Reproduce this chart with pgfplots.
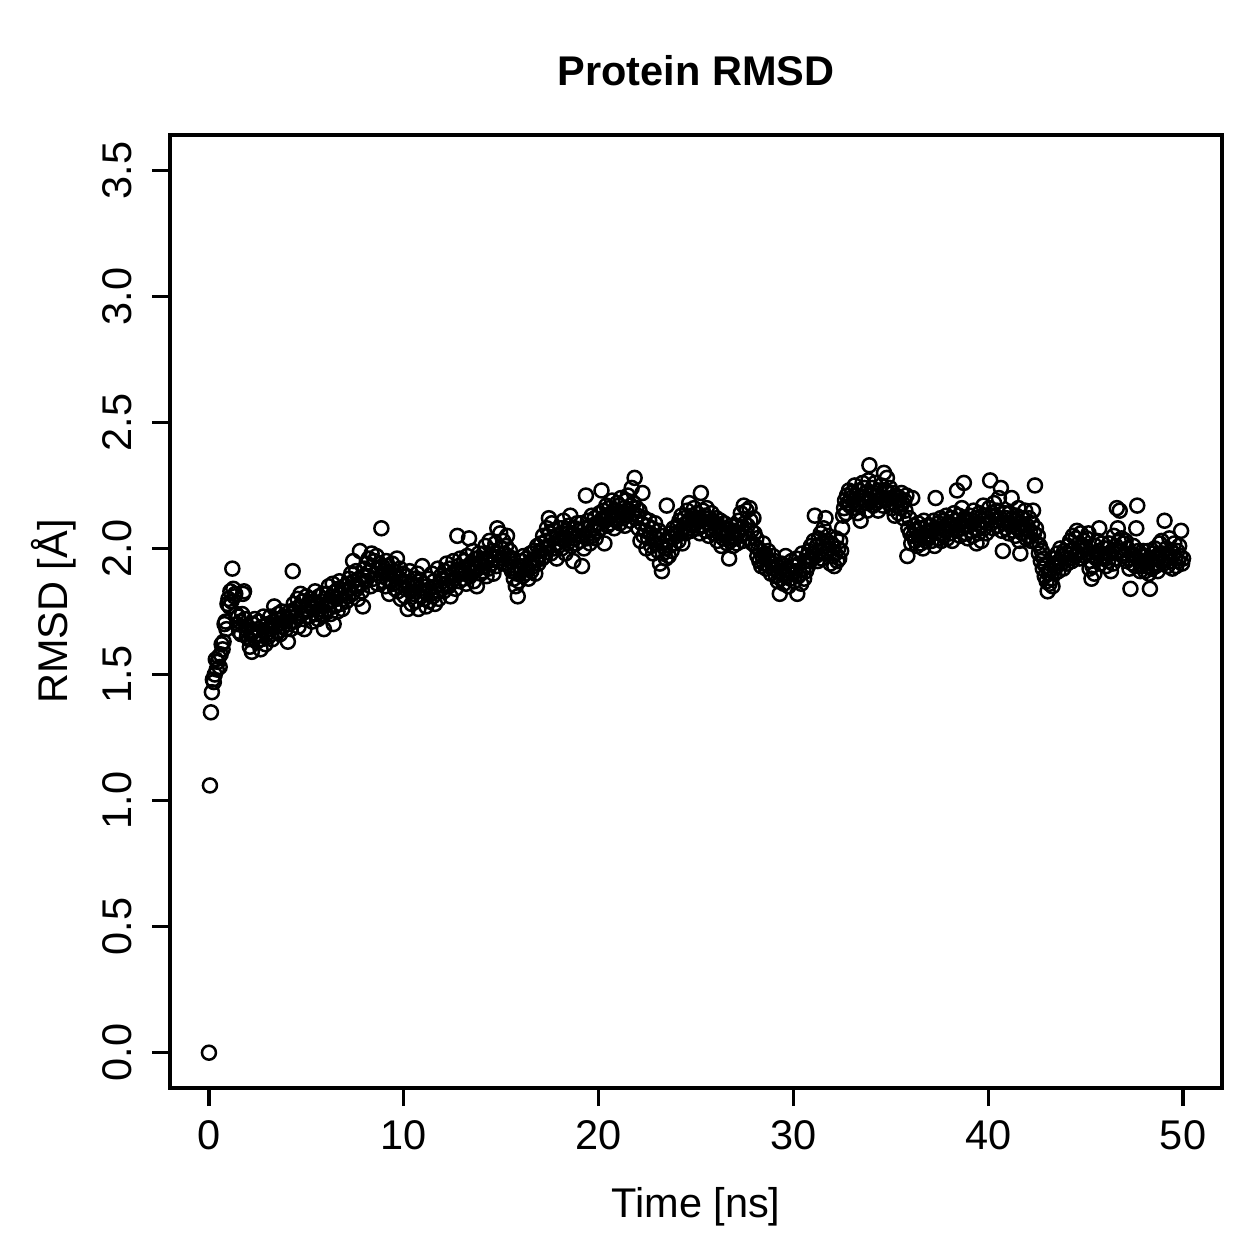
\documentclass[border=0pt]{standalone}
\usepackage{fontspec}
\setmainfont{Liberation Sans}
\usepackage{pgfplots}
\usepackage{pgfplotstable}
\pgfplotsset{compat=1.18}

% Backbone RMSD, one frame every 0.05 ns (0 to 50 ns)
\pgfplotstableread[header=false, row sep=\\]{
0.00\\ 1.06\\ 1.35\\ 1.43\\ 1.48\\ 1.47\\ 1.50\\ 1.56\\ 1.52\\ 1.55\\ 1.57\\ 1.53\\ 1.58\\ 1.62\\ 1.60\\ 1.63\\ 1.70\\ 1.71\\ 1.68\\ 1.78\\
1.80\\ 1.77\\ 1.83\\ 1.79\\ 1.92\\ 1.84\\ 1.81\\ 1.82\\ 1.74\\ 1.70\\ 1.73\\ 1.67\\ 1.71\\ 1.66\\ 1.74\\ 1.82\\ 1.83\\ 1.72\\ 1.68\\ 1.65\\
1.69\\ 1.64\\ 1.61\\ 1.66\\ 1.59\\ 1.70\\ 1.67\\ 1.72\\ 1.65\\ 1.63\\ 1.68\\ 1.71\\ 1.66\\ 1.60\\ 1.64\\ 1.69\\ 1.73\\ 1.67\\ 1.62\\ 1.66\\
1.70\\ 1.65\\ 1.68\\ 1.73\\ 1.66\\ 1.64\\ 1.71\\ 1.77\\ 1.69\\ 1.72\\ 1.67\\ 1.74\\ 1.70\\ 1.66\\ 1.72\\ 1.75\\ 1.69\\ 1.73\\ 1.71\\ 1.68\\
1.72\\ 1.63\\ 1.70\\ 1.75\\ 1.68\\ 1.74\\ 1.91\\ 1.78\\ 1.71\\ 1.76\\ 1.73\\ 1.80\\ 1.69\\ 1.77\\ 1.82\\ 1.74\\ 1.79\\ 1.72\\ 1.68\\ 1.76\\
1.81\\ 1.75\\ 1.78\\ 1.73\\ 1.80\\ 1.77\\ 1.71\\ 1.79\\ 1.76\\ 1.83\\ 1.74\\ 1.78\\ 1.72\\ 1.81\\ 1.76\\ 1.74\\ 1.79\\ 1.82\\ 1.68\\ 1.75\\
1.78\\ 1.82\\ 1.76\\ 1.85\\ 1.79\\ 1.74\\ 1.81\\ 1.86\\ 1.70\\ 1.77\\ 1.83\\ 1.80\\ 1.75\\ 1.84\\ 1.87\\ 1.78\\ 1.82\\ 1.76\\ 1.80\\ 1.85\\
1.83\\ 1.79\\ 1.86\\ 1.81\\ 1.88\\ 1.84\\ 1.90\\ 1.82\\ 1.95\\ 1.87\\ 1.85\\ 1.91\\ 1.84\\ 1.80\\ 1.88\\ 1.99\\ 1.86\\ 1.83\\ 1.77\\ 1.89\\
1.92\\ 1.87\\ 1.94\\ 1.89\\ 1.96\\ 1.91\\ 1.85\\ 1.98\\ 1.93\\ 1.88\\ 1.95\\ 1.90\\ 1.97\\ 1.86\\ 1.92\\ 1.94\\ 1.89\\ 2.08\\ 1.93\\ 1.87\\
1.91\\ 1.85\\ 1.95\\ 1.88\\ 1.93\\ 1.82\\ 1.90\\ 1.87\\ 1.94\\ 1.86\\ 1.91\\ 1.84\\ 1.89\\ 1.96\\ 1.83\\ 1.88\\ 1.92\\ 1.80\\ 1.86\\ 1.90\\
1.87\\ 1.81\\ 1.84\\ 1.89\\ 1.76\\ 1.85\\ 1.91\\ 1.83\\ 1.78\\ 1.86\\ 1.82\\ 1.88\\ 1.79\\ 1.85\\ 1.90\\ 1.76\\ 1.84\\ 1.87\\ 1.81\\ 1.93\\
1.86\\ 1.80\\ 1.83\\ 1.77\\ 1.85\\ 1.88\\ 1.79\\ 1.84\\ 1.82\\ 1.90\\ 1.81\\ 1.87\\ 1.78\\ 1.85\\ 1.83\\ 1.92\\ 1.80\\ 1.86\\ 1.89\\ 1.84\\
1.88\\ 1.83\\ 1.91\\ 1.86\\ 1.94\\ 1.89\\ 1.85\\ 1.92\\ 1.81\\ 1.87\\ 1.90\\ 1.95\\ 1.88\\ 1.84\\ 1.91\\ 2.05\\ 1.93\\ 1.87\\ 1.96\\ 1.90\\
1.92\\ 1.88\\ 1.95\\ 1.90\\ 1.86\\ 1.97\\ 1.93\\ 2.04\\ 1.89\\ 1.94\\ 1.91\\ 1.99\\ 1.87\\ 1.93\\ 1.96\\ 1.85\\ 1.92\\ 1.98\\ 1.94\\ 1.90\\
1.95\\ 1.91\\ 1.98\\ 1.93\\ 2.01\\ 1.89\\ 1.96\\ 1.92\\ 2.03\\ 1.97\\ 1.94\\ 1.99\\ 1.90\\ 1.96\\ 2.02\\ 1.93\\ 2.08\\ 1.98\\ 1.95\\ 2.06\\
2.00\\ 1.96\\ 2.03\\ 1.98\\ 1.94\\ 2.01\\ 2.05\\ 1.97\\ 1.93\\ 1.99\\ 1.95\\ 1.91\\ 1.96\\ 1.88\\ 1.92\\ 1.85\\ 1.90\\ 1.81\\ 1.87\\ 1.93\\
1.91\\ 1.95\\ 1.89\\ 1.97\\ 1.93\\ 1.90\\ 1.96\\ 1.92\\ 1.88\\ 1.94\\ 1.98\\ 1.91\\ 1.95\\ 1.93\\ 1.99\\ 1.90\\ 1.96\\ 2.01\\ 1.94\\ 1.97\\
1.99\\ 2.02\\ 1.96\\ 2.05\\ 2.00\\ 1.97\\ 2.03\\ 2.08\\ 2.01\\ 2.12\\ 2.06\\ 1.98\\ 2.10\\ 2.04\\ 2.00\\ 2.07\\ 2.02\\ 1.96\\ 2.05\\ 2.01\\
2.04\\ 2.08\\ 2.00\\ 2.06\\ 2.11\\ 2.03\\ 1.98\\ 2.07\\ 2.02\\ 2.09\\ 2.05\\ 2.13\\ 2.01\\ 2.06\\ 1.95\\ 2.04\\ 2.08\\ 2.02\\ 2.10\\ 2.05\\
2.07\\ 2.03\\ 2.10\\ 1.93\\ 2.05\\ 2.00\\ 2.08\\ 2.21\\ 2.04\\ 2.11\\ 2.06\\ 2.02\\ 2.09\\ 2.13\\ 2.05\\ 2.08\\ 2.12\\ 2.04\\ 2.10\\ 2.07\\
2.10\\ 2.14\\ 2.08\\ 2.23\\ 2.12\\ 2.15\\ 2.02\\ 2.11\\ 2.17\\ 2.09\\ 2.13\\ 2.16\\ 2.10\\ 2.14\\ 2.19\\ 2.12\\ 2.08\\ 2.15\\ 2.11\\ 2.18\\
2.13\\ 2.17\\ 2.10\\ 2.20\\ 2.14\\ 2.12\\ 2.16\\ 2.09\\ 2.19\\ 2.13\\ 2.21\\ 2.15\\ 2.11\\ 2.17\\ 2.24\\ 2.14\\ 2.18\\ 2.28\\ 2.12\\ 2.16\\
2.13\\ 2.08\\ 2.15\\ 2.03\\ 2.10\\ 2.22\\ 2.05\\ 2.12\\ 2.07\\ 2.00\\ 2.09\\ 2.04\\ 2.11\\ 2.06\\ 2.01\\ 2.08\\ 1.98\\ 2.05\\ 2.10\\ 2.02\\
2.04\\ 1.99\\ 2.07\\ 1.94\\ 2.02\\ 1.91\\ 1.98\\ 2.05\\ 2.00\\ 1.96\\ 2.17\\ 2.03\\ 1.97\\ 2.01\\ 2.06\\ 1.99\\ 2.04\\ 2.08\\ 2.02\\ 2.06\\
2.05\\ 2.09\\ 2.03\\ 2.11\\ 2.07\\ 2.13\\ 2.02\\ 2.08\\ 2.12\\ 2.06\\ 2.10\\ 2.15\\ 2.08\\ 2.18\\ 2.11\\ 2.07\\ 2.13\\ 2.09\\ 2.16\\ 2.12\\
2.10\\ 2.14\\ 2.08\\ 2.12\\ 2.06\\ 2.22\\ 2.11\\ 2.15\\ 2.09\\ 2.13\\ 2.07\\ 2.16\\ 2.10\\ 2.05\\ 2.12\\ 2.08\\ 2.14\\ 2.11\\ 2.06\\ 2.10\\
2.08\\ 2.12\\ 2.03\\ 2.09\\ 2.06\\ 2.11\\ 2.01\\ 2.07\\ 2.04\\ 2.10\\ 2.05\\ 2.08\\ 2.02\\ 2.06\\ 1.96\\ 2.03\\ 2.09\\ 2.05\\ 2.01\\ 2.07\\
2.04\\ 2.09\\ 2.02\\ 2.06\\ 2.11\\ 2.05\\ 2.14\\ 2.08\\ 2.03\\ 2.17\\ 2.10\\ 2.06\\ 2.15\\ 2.09\\ 2.04\\ 2.16\\ 2.11\\ 2.07\\ 2.02\\ 2.12\\
2.06\\ 2.01\\ 2.04\\ 1.97\\ 2.00\\ 1.95\\ 1.99\\ 1.93\\ 1.97\\ 2.02\\ 1.94\\ 1.98\\ 1.92\\ 1.96\\ 1.99\\ 1.93\\ 1.95\\ 1.90\\ 1.94\\ 1.97\\
1.92\\ 1.95\\ 1.89\\ 1.93\\ 1.87\\ 1.91\\ 1.82\\ 1.88\\ 1.94\\ 1.90\\ 1.86\\ 1.93\\ 1.97\\ 1.89\\ 1.92\\ 1.85\\ 1.91\\ 1.88\\ 1.95\\ 1.90\\
1.93\\ 1.87\\ 1.91\\ 1.96\\ 1.82\\ 1.89\\ 1.94\\ 1.90\\ 1.86\\ 1.98\\ 1.92\\ 1.88\\ 1.95\\ 1.91\\ 1.97\\ 1.93\\ 1.99\\ 1.95\\ 2.01\\ 1.96\\
1.98\\ 2.03\\ 2.13\\ 1.97\\ 2.01\\ 1.95\\ 2.04\\ 1.99\\ 2.06\\ 1.96\\ 2.02\\ 2.08\\ 1.98\\ 2.12\\ 2.03\\ 1.99\\ 2.05\\ 2.00\\ 1.94\\ 2.02\\
1.97\\ 2.01\\ 1.93\\ 1.98\\ 2.04\\ 1.95\\ 2.00\\ 1.96\\ 2.03\\ 1.99\\ 2.08\\ 2.13\\ 2.16\\ 2.19\\ 2.14\\ 2.21\\ 2.18\\ 2.23\\ 2.17\\ 2.20\\
2.22\\ 2.16\\ 2.19\\ 2.25\\ 2.18\\ 2.21\\ 2.14\\ 2.23\\ 2.17\\ 2.11\\ 2.20\\ 2.26\\ 2.19\\ 2.24\\ 2.18\\ 2.22\\ 2.15\\ 2.27\\ 2.33\\ 2.21\\
2.19\\ 2.24\\ 2.17\\ 2.22\\ 2.26\\ 2.18\\ 2.21\\ 2.15\\ 2.23\\ 2.19\\ 2.25\\ 2.20\\ 2.17\\ 2.30\\ 2.23\\ 2.19\\ 2.28\\ 2.22\\ 2.18\\ 2.24\\
2.20\\ 2.16\\ 2.22\\ 2.18\\ 2.13\\ 2.21\\ 2.17\\ 2.19\\ 2.14\\ 2.20\\ 2.16\\ 2.22\\ 2.18\\ 2.12\\ 2.19\\ 2.15\\ 2.21\\ 1.97\\ 2.08\\ 2.12\\
2.06\\ 2.02\\ 2.20\\ 2.05\\ 2.09\\ 2.03\\ 2.07\\ 2.01\\ 2.10\\ 2.04\\ 2.08\\ 2.02\\ 2.06\\ 2.00\\ 2.11\\ 2.05\\ 2.03\\ 2.09\\ 2.04\\ 2.07\\
2.05\\ 2.09\\ 2.03\\ 2.07\\ 2.11\\ 2.01\\ 2.20\\ 2.08\\ 2.04\\ 2.10\\ 2.06\\ 2.12\\ 2.03\\ 2.08\\ 2.05\\ 2.11\\ 2.07\\ 2.13\\ 2.04\\ 2.09\\
2.10\\ 2.06\\ 2.12\\ 2.03\\ 2.08\\ 2.14\\ 2.11\\ 2.07\\ 2.23\\ 2.09\\ 2.13\\ 2.05\\ 2.10\\ 2.16\\ 2.08\\ 2.26\\ 2.12\\ 2.06\\ 2.11\\ 2.04\\
2.09\\ 2.13\\ 2.07\\ 2.11\\ 2.05\\ 2.15\\ 2.08\\ 2.12\\ 2.02\\ 2.10\\ 2.06\\ 2.14\\ 2.09\\ 2.03\\ 2.11\\ 2.17\\ 2.08\\ 2.13\\ 2.06\\ 2.10\\
2.12\\ 2.16\\ 2.27\\ 2.10\\ 2.14\\ 2.08\\ 2.18\\ 2.13\\ 2.11\\ 2.15\\ 2.09\\ 2.20\\ 2.12\\ 2.24\\ 2.07\\ 1.99\\ 2.10\\ 2.14\\ 2.08\\ 2.12\\
2.10\\ 2.06\\ 2.14\\ 2.09\\ 2.20\\ 2.12\\ 2.07\\ 2.11\\ 2.05\\ 2.13\\ 2.08\\ 2.16\\ 2.03\\ 1.98\\ 2.10\\ 2.06\\ 2.12\\ 2.08\\ 2.15\\ 2.04\\
2.09\\ 2.05\\ 2.12\\ 2.07\\ 2.03\\ 2.10\\ 2.15\\ 2.06\\ 2.25\\ 2.08\\ 2.02\\ 2.05\\ 1.98\\ 2.01\\ 1.95\\ 1.99\\ 1.92\\ 1.96\\ 1.89\\ 1.93\\
1.87\\ 1.83\\ 1.90\\ 1.86\\ 1.92\\ 1.88\\ 1.85\\ 1.94\\ 1.90\\ 1.96\\ 1.93\\ 1.98\\ 1.91\\ 1.95\\ 2.00\\ 1.94\\ 1.97\\ 1.92\\ 1.99\\ 1.96\\
1.98\\ 1.94\\ 2.01\\ 1.96\\ 2.03\\ 1.99\\ 1.95\\ 2.05\\ 2.00\\ 1.97\\ 2.04\\ 2.07\\ 1.98\\ 2.02\\ 1.96\\ 2.06\\ 2.01\\ 1.99\\ 2.03\\ 1.97\\
2.00\\ 2.04\\ 1.98\\ 2.06\\ 1.92\\ 1.95\\ 1.88\\ 1.93\\ 1.97\\ 1.90\\ 2.01\\ 1.96\\ 2.03\\ 1.99\\ 2.08\\ 1.94\\ 1.98\\ 2.02\\ 1.96\\ 2.00\\
1.97\\ 1.93\\ 2.00\\ 1.95\\ 2.02\\ 1.98\\ 1.91\\ 1.99\\ 1.94\\ 2.05\\ 1.96\\ 2.01\\ 2.16\\ 2.08\\ 2.03\\ 2.15\\ 1.99\\ 2.04\\ 1.97\\ 2.02\\
1.98\\ 2.03\\ 1.95\\ 2.00\\ 1.96\\ 1.92\\ 1.84\\ 1.98\\ 1.94\\ 2.01\\ 1.97\\ 1.93\\ 2.08\\ 2.17\\ 1.99\\ 1.95\\ 1.91\\ 1.97\\ 1.93\\ 1.99\\
1.95\\ 1.91\\ 1.97\\ 1.93\\ 1.99\\ 1.90\\ 1.84\\ 1.96\\ 1.92\\ 1.98\\ 1.94\\ 2.00\\ 1.93\\ 1.97\\ 1.91\\ 1.96\\ 2.02\\ 1.95\\ 2.03\\ 1.98\\
1.94\\ 2.11\\ 1.96\\ 2.00\\ 1.93\\ 1.97\\ 2.04\\ 1.95\\ 1.99\\ 1.92\\ 1.98\\ 2.02\\ 1.96\\ 1.93\\ 1.99\\ 1.95\\ 2.01\\ 1.97\\ 2.07\\ 1.94\\
1.96\\
}\rmsdtable

\begin{document}
\begin{tikzpicture}[x=1pt,y=1pt]
\path[use as bounding box] (0,0) rectangle (503.6,503.6);
\begin{axis}[
  at={(68pt,68.4pt)}, anchor=south west,
  scale only axis, width=420.8pt, height=381.2pt,
  xmin=-2, xmax=52, ymin=-0.14, ymax=3.64,
  axis line style={line width=1.3pt},
  xtick={0,10,20,30,40,50},
  ytick={0,0.5,1,1.5,2,2.5,3,3.5},
  xtick pos=bottom, ytick pos=left,
  tick align=outside, major tick length=7.2pt,
  tick style={line width=1.3pt, black},
  /pgf/number format/assume math mode=true,
  yticklabel={\pgfmathprintnumber[fixed,fixed zerofill,precision=1]{\tick}},
  tick label style={font=\fontsize{16.6}{19.9}\selectfont, inner sep=0pt},
  xticklabel style={anchor=base, yshift=-17.4pt},
  yticklabel style={xshift=-8.2pt, rotate=90, anchor=base},
  label style={font=\fontsize{16.6}{19.9}\selectfont},
  xlabel={Time [ns]},
  ylabel={RMSD [Å]},
  xlabel style={at={(axis description cs:0.5,-0.1354)}, anchor=base, inner sep=0pt},
  ylabel style={at={(axis description cs:-0.0979,0.5)}, anchor=base, inner sep=0pt},
  title={Protein RMSD},
  title style={at={(axis description cs:0.5,1.0367)}, anchor=base, inner sep=0pt,
    font=\fontsize{16.6}{19.9}\selectfont\bfseries},
]
\addplot[only marks, mark=o, mark size=2.8pt, black,
  mark options={line width=1.0pt}]
  table[x expr=\coordindex*0.05, y index=0] {\rmsdtable};
\end{axis}
\end{tikzpicture}
\end{document}
